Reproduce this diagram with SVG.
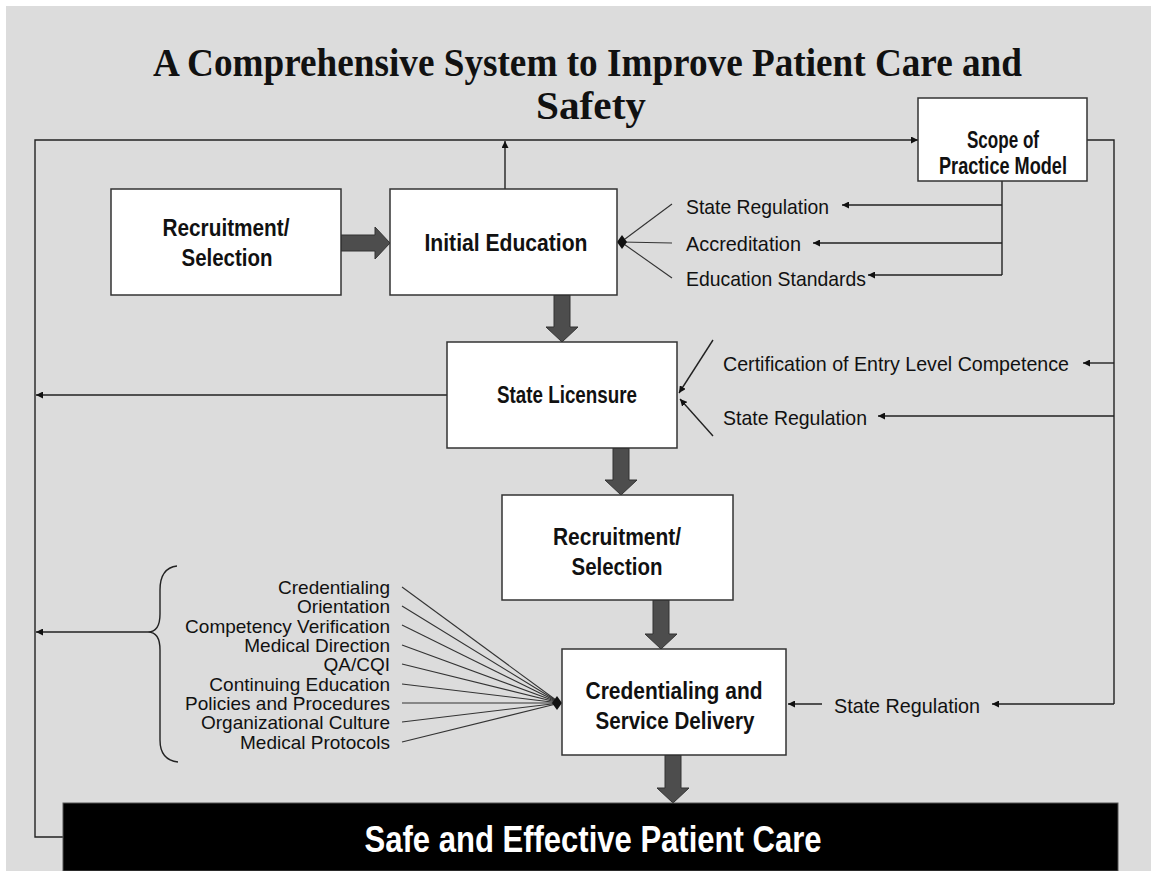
<svg xmlns="http://www.w3.org/2000/svg" width="1151" height="871" viewBox="0 0 1151 871">
  <defs>
    <marker id="tip" viewBox="0 0 10 10" refX="10" refY="5" markerWidth="7" markerHeight="7" markerUnits="userSpaceOnUse" orient="auto">
      <path d="M0,0 L10,5 L0,10 Z" fill="#111"/>
    </marker>
    <style>
      .bg { fill: #dcdcdc; }
      .box { fill: #ffffff; stroke: #333333; stroke-width: 1.5; }
      .thin { fill: none; stroke: #222222; stroke-width: 1.4; }
      .arr { fill: none; stroke: #222222; stroke-width: 1.4; marker-end: url(#tip); }
      .fan { fill: none; stroke: #333333; stroke-width: 1.1; }
      .fat { fill: #4d4d4d; stroke: #333333; stroke-width: 1; }
      .title { font-family: "Liberation Serif", "Times New Roman", serif; font-weight: bold; font-size: 41px; fill: #111; }
      .bt { font-family: "Liberation Sans", Arial, sans-serif; font-weight: bold; font-size: 23px; fill: #111; text-anchor: middle; }
      .lbl { font-family: "Liberation Sans", Arial, sans-serif; font-size: 21px; fill: #111; }
      .lst { font-family: "Liberation Sans", Arial, sans-serif; font-size: 19px; fill: #111; text-anchor: end; }
      .big { font-family: "Liberation Sans", Arial, sans-serif; font-weight: bold; font-size: 36px; fill: #ffffff; text-anchor: middle; }
    </style>
  </defs>

  <rect x="0" y="0" width="1151" height="871" fill="#ffffff"/>
  <rect class="bg" x="6" y="6" width="1145" height="865"/>

  <!-- title -->
  <text class="title" x="153" y="76" textLength="869" lengthAdjust="spacingAndGlyphs">A Comprehensive System to Improve Patient Care and</text>
  <text class="title" x="536" y="119" textLength="110" lengthAdjust="spacingAndGlyphs">Safety</text>

  <!-- connectors -->
  <g id="connectors">
    <!-- feedback loop round the left side -->
    <polyline class="arr" points="63,837 35,837 35,140 918,140"/>
    <line class="arr" x1="505" y1="189" x2="505" y2="141"/>
    <line class="arr" x1="447" y1="395" x2="36" y2="395"/>
    <line class="arr" x1="148" y1="632" x2="36" y2="632"/>

    <!-- scope of practice feeds -->
    <polyline class="thin" points="1087,140 1114,140 1114,704"/>
    <line class="thin" x1="1002" y1="181" x2="1002" y2="275"/>
    <line class="arr" x1="1002" y1="205" x2="842" y2="205"/>
    <line class="arr" x1="1002" y1="243" x2="813" y2="243"/>
    <line class="arr" x1="1002" y1="275" x2="868" y2="275"/>
    <line class="arr" x1="1114" y1="363" x2="1083" y2="363"/>
    <line class="arr" x1="1114" y1="416" x2="878" y2="416"/>
    <line class="arr" x1="1114" y1="704" x2="992" y2="704"/>
    <line class="arr" x1="822" y1="704" x2="788" y2="704"/>

    <!-- inputs to Initial Education -->
    <line class="fan" x1="672" y1="204" x2="621" y2="242"/>
    <line class="fan" x1="672" y1="243" x2="621" y2="242"/>
    <line class="fan" x1="672" y1="278" x2="621" y2="242"/>
    <polygon points="617,242 622,235 627,242 622,249" fill="#111"/>

    <!-- inputs to State Licensure -->
    <line class="arr" x1="713" y1="340" x2="679" y2="393"/>
    <line class="arr" x1="713" y1="436" x2="680" y2="399"/>

    <!-- inputs to Credentialing and Service Delivery -->
    <g class="fan">
      <line x1="402" y1="587" x2="560" y2="703"/>
      <line x1="402" y1="606" x2="560" y2="703"/>
      <line x1="402" y1="625" x2="560" y2="703"/>
      <line x1="402" y1="645" x2="560" y2="703"/>
      <line x1="402" y1="664" x2="560" y2="703"/>
      <line x1="402" y1="684" x2="560" y2="703"/>
      <line x1="402" y1="703" x2="560" y2="703"/>
      <line x1="402" y1="722" x2="560" y2="703"/>
      <line x1="402" y1="742" x2="560" y2="703"/>
    </g>
    <polygon points="552,703 557,696 562,703 557,710" fill="#111"/>

    <!-- brace grouping the list -->
    <path class="thin" d="M177,566 Q160,568 160,590 L160,614 Q160,632 148,632 Q160,632 160,650 L160,740 Q160,760 178,762" stroke="#555" stroke-width="1.2"/>

    <!-- main flow (block arrows) -->
    <polygon class="fat" points="341,235 375,235 375,227 390,243 375,259 375,251 341,251"/>
    <polygon class="fat" points="554,295 570,295 570,327 578,327 562,342 546,327 554,327"/>
    <polygon class="fat" points="613,448 629,448 629,480 637,480 621,495 605,480 613,480"/>
    <polygon class="fat" points="653,600 669,600 669,634 677,634 661,649 645,634 653,634"/>
    <polygon class="fat" points="665,755 681,755 681,788 689,788 673,803 657,788 665,788"/>
  </g>

  <!-- nodes -->
  <g id="scope">
    <rect class="box" x="918" y="98" width="169" height="83"/>
    <text class="bt" x="1003" y="148" textLength="72" lengthAdjust="spacingAndGlyphs">Scope of</text>
    <text class="bt" x="1003" y="174" textLength="128" lengthAdjust="spacingAndGlyphs">Practice Model</text>
  </g>

  <g id="recruit1">
    <rect class="box" x="111" y="189" width="230" height="106"/>
    <text class="bt" x="226" y="236" textLength="127" lengthAdjust="spacingAndGlyphs">Recruitment/</text>
    <text class="bt" x="227" y="266" textLength="91" lengthAdjust="spacingAndGlyphs">Selection</text>
  </g>

  <g id="education">
    <rect class="box" x="390" y="189" width="227" height="106"/>
    <text class="bt" x="506" y="251" textLength="163" lengthAdjust="spacingAndGlyphs">Initial Education</text>
  </g>

  <g id="education-inputs">
    <text class="lbl" x="686" y="214" textLength="143" lengthAdjust="spacingAndGlyphs">State Regulation</text>
    <text class="lbl" x="686" y="251" textLength="115" lengthAdjust="spacingAndGlyphs">Accreditation</text>
    <text class="lbl" x="686" y="286" textLength="180" lengthAdjust="spacingAndGlyphs">Education Standards</text>
  </g>

  <g id="licensure">
    <rect class="box" x="447" y="342" width="230" height="106"/>
    <text class="bt" x="567" y="403" textLength="140" lengthAdjust="spacingAndGlyphs">State Licensure</text>
  </g>

  <g id="licensure-inputs">
    <text class="lbl" x="723" y="371" textLength="346" lengthAdjust="spacingAndGlyphs">Certification of Entry Level Competence</text>
    <text class="lbl" x="723" y="425" textLength="144" lengthAdjust="spacingAndGlyphs">State Regulation</text>
  </g>

  <g id="recruit2">
    <rect class="box" x="502" y="495" width="231" height="105"/>
    <text class="bt" x="617" y="545" textLength="128" lengthAdjust="spacingAndGlyphs">Recruitment/</text>
    <text class="bt" x="617" y="575" textLength="91" lengthAdjust="spacingAndGlyphs">Selection</text>
  </g>

  <g id="delivery">
    <rect class="box" x="562" y="649" width="224" height="106"/>
    <text class="bt" x="674" y="699" textLength="177" lengthAdjust="spacingAndGlyphs">Credentialing and</text>
    <text class="bt" x="675" y="729" textLength="159" lengthAdjust="spacingAndGlyphs">Service Delivery</text>
  </g>

  <g id="delivery-inputs">
    <text class="lbl" x="834" y="713" textLength="146" lengthAdjust="spacingAndGlyphs">State Regulation</text>
    <text class="lst" x="390" y="594">Credentialing</text>
    <text class="lst" x="390" y="613">Orientation</text>
    <text class="lst" x="390" y="633">Competency Verification</text>
    <text class="lst" x="390" y="652">Medical Direction</text>
    <text class="lst" x="390" y="671">QA/CQI</text>
    <text class="lst" x="390" y="691">Continuing Education</text>
    <text class="lst" x="390" y="710">Policies and Procedures</text>
    <text class="lst" x="390" y="729">Organizational Culture</text>
    <text class="lst" x="390" y="749">Medical Protocols</text>
  </g>

  <g id="outcome">
    <rect x="63" y="803" width="1055" height="68" fill="#000000" stroke="#555555" stroke-width="1"/>
    <text class="big" x="593" y="852" textLength="457" lengthAdjust="spacingAndGlyphs">Safe and Effective Patient Care</text>
  </g>
</svg>
